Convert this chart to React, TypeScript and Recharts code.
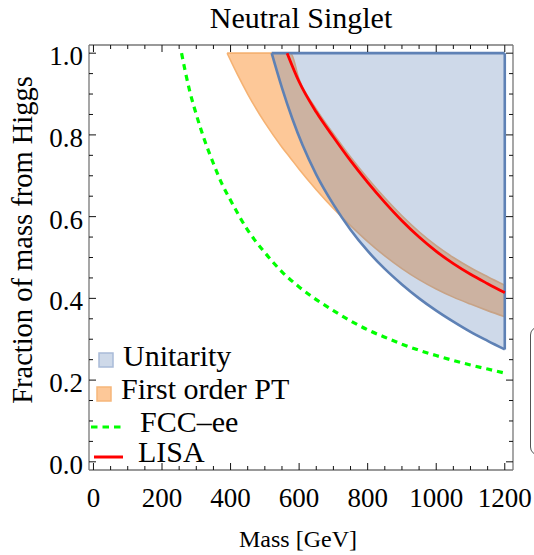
import React from "react";
import { Area, ComposedChart, Line, XAxis, YAxis } from "recharts";

const serif = "'Liberation Serif', 'Times New Roman', serif";

// axis labels
const massTicks = [0, 200, 400, 600, 800, 1000, 1200];
const fractionTicks = [0.0, 0.2, 0.4, 0.6, 0.8, 1.0];

// Unitarity: allowed region lies between this lower edge and 1.0
const unitarityMass = [520, 550, 580, 610, 650, 700, 750, 800, 850, 900, 950, 1000, 1050, 1100, 1150, 1200];
const unitarityLow = [1.0, 0.915, 0.84, 0.775, 0.703, 0.63, 0.568, 0.516, 0.472, 0.434, 0.4, 0.37, 0.343, 0.318, 0.296, 0.275];

// First order PT band
const firstOrderMass = [390, 420, 450, 500, 550, 575, 600, 650, 700, 750, 800, 850, 900, 950, 1000, 1050, 1100, 1150, 1200];
const firstOrderLow = [1.0, 0.948, 0.9, 0.83, 0.77, 0.743, 0.716, 0.666, 0.62, 0.578, 0.539, 0.504, 0.473, 0.446, 0.423, 0.403, 0.386, 0.37, 0.355];
const firstOrderHigh = [1.0, 1.0, 1.0, 1.0, 1.0, 1.0, 0.936, 0.863, 0.803, 0.746, 0.694, 0.646, 0.602, 0.563, 0.529, 0.5, 0.475, 0.453, 0.432];

// FCC-ee reach
const fccMass = [257, 280, 300, 325, 350, 375, 400, 450, 500, 550, 600, 650, 700, 750, 800, 850, 900, 950, 1000, 1050, 1100, 1150, 1200];
const fccFraction = [1.0, 0.91, 0.85, 0.785, 0.73, 0.68, 0.64, 0.567, 0.512, 0.465, 0.428, 0.397, 0.37, 0.345, 0.323, 0.305, 0.288, 0.273, 0.26, 0.248, 0.237, 0.227, 0.217];

// LISA reach
const lisaMass = [565, 600, 650, 700, 750, 800, 850, 900, 950, 1000, 1050, 1100, 1150, 1200];
const lisaFraction = [1.0, 0.93, 0.856, 0.795, 0.737, 0.684, 0.635, 0.59, 0.55, 0.515, 0.485, 0.459, 0.436, 0.414];

const unitarityData = unitarityMass.map((m, i) => ({ m, low: unitarityLow[i], high: 1.0 }));
const unitarityEdge = [
  { m: unitarityMass[unitarityMass.length - 1], f: unitarityLow[unitarityLow.length - 1] },
  { m: unitarityMass[unitarityMass.length - 1], f: 1.0 },
];
const firstOrderData = firstOrderMass.map((m, i) => ({ m, low: firstOrderLow[i], high: firstOrderHigh[i] }));
const fccData = fccMass.map((m, i) => ({ m, f: fccFraction[i] }));
const lisaData = lisaMass.map((m, i) => ({ m, f: lisaFraction[i] }));

// minor ticks every 50 GeV and every 0.05
const xTickAll = Array.from({ length: 25 }, (_, i) => i * 50);
const yTickAll = Array.from({ length: 21 }, (_, i) => Math.round(i * 5) / 100);

const isMajorX = (v: number) => massTicks.includes(v);
const isMajorY = (v: number) => fractionTicks.some((t) => Math.abs(t - v) < 1e-6);

const tickColor = "#111";
const frame = { stroke: "#777", strokeWidth: 1.3 };

function BottomTick(props: any) {
  const { x, y, payload } = props;
  const major = isMajorX(payload.value);
  return (
    <g>
      <line x1={x} x2={x} y1={y} y2={y - (major ? 7 : 4)} stroke={tickColor} />
      {major && (
        <text x={x} y={y + 37} textAnchor="middle" fontFamily={serif} fontSize={27} fill="#000">
          {payload.value}
        </text>
      )}
    </g>
  );
}

function TopTick(props: any) {
  const { x, y, payload } = props;
  const major = isMajorX(payload.value);
  return <line x1={x} x2={x} y1={y} y2={y + (major ? 7 : 4)} stroke={tickColor} />;
}

function LeftTick(props: any) {
  const { x, y, payload } = props;
  const major = isMajorY(payload.value);
  return (
    <g>
      <line x1={x} x2={x + (major ? 7 : 4)} y1={y} y2={y} stroke={tickColor} />
      {major && (
        <text x={x - 6} y={y + 12} textAnchor="end" fontFamily={serif} fontSize={27} fill="#000">
          {payload.value.toFixed(1)}
        </text>
      )}
    </g>
  );
}

function RightTick(props: any) {
  const { x, y, payload } = props;
  const major = isMajorY(payload.value);
  return <line x1={x} x2={x - (major ? 7 : 4)} y1={y} y2={y} stroke={tickColor} />;
}

export default function App() {
  return (
    <div style={{ position: "absolute", left: 0, top: 0, width: 534, height: 555, background: "#fff" }}>
      <ComposedChart width={534} height={555} margin={{ top: 44, right: 20, bottom: 0, left: 0 }}>
        <XAxis
          dataKey="m"
          type="number"
          domain={[-13, 1224]}
          allowDataOverflow
          ticks={xTickAll}
          interval={0}
          tick={<BottomTick />}
          tickLine={false}
          tickSize={0}
          tickMargin={0}
          axisLine={frame}
          height={85}
        />
        <XAxis
          xAxisId="top"
          dataKey="m"
          orientation="top"
          type="number"
          domain={[-13, 1224]}
          allowDataOverflow
          ticks={xTickAll}
          interval={0}
          tick={<TopTick />}
          tickLine={false}
          tickSize={0}
          tickMargin={0}
          axisLine={frame}
          height={1}
        />
        <YAxis
          type="number"
          domain={[-0.02, 1.02]}
          allowDataOverflow
          ticks={yTickAll}
          interval={0}
          tick={<LeftTick />}
          tickLine={false}
          tickSize={0}
          tickMargin={0}
          axisLine={frame}
          width={89}
        />
        <YAxis
          yAxisId="right"
          orientation="right"
          type="number"
          domain={[-0.02, 1.02]}
          allowDataOverflow
          ticks={yTickAll}
          interval={0}
          tick={<RightTick />}
          tickLine={false}
          tickSize={0}
          tickMargin={0}
          axisLine={frame}
          width={1}
        />

        <Area
          data={firstOrderData}
          dataKey={(d: any) => [d.low, d.high]}
          type="monotone"
          fill="#fdc898"
          fillOpacity={1}
          stroke="#f5b273"
          strokeWidth={1.6}
          isAnimationActive={false}
          activeDot={false}
        />
        <Area
          data={unitarityData}
          dataKey={(d: any) => [d.low, d.high]}
          type="monotone"
          fill="#5e81b5"
          fillOpacity={0.3}
          stroke="#5e81b5"
          strokeWidth={2.6}
          isAnimationActive={false}
          activeDot={false}
        />
        <Line
          data={unitarityEdge}
          dataKey="f"
          type="linear"
          stroke="#5e81b5"
          strokeWidth={2.6}
          dot={false}
          activeDot={false}
          isAnimationActive={false}
        />
        <Line
          data={fccData}
          dataKey="f"
          type="monotone"
          stroke="#00ff00"
          strokeWidth={3.2}
          strokeDasharray="6 5"
          dot={false}
          activeDot={false}
          isAnimationActive={false}
        />
        {/* same domains as the bottom/left axes; keeps the top and right frame drawn */}
        <Line
          xAxisId="top"
          yAxisId="right"
          data={lisaData}
          dataKey="f"
          type="monotone"
          stroke="#ff0000"
          strokeWidth={2.8}
          dot={false}
          activeDot={false}
          isAnimationActive={false}
        />
      </ComposedChart>

      <svg
        width={534}
        height={555}
        style={{ position: "absolute", left: 0, top: 0, pointerEvents: "none" }}
        fontFamily={serif}
      >
        <text x={301} y={28} textAnchor="middle" fontSize={30}>
          Neutral Singlet
        </text>
        <text transform="translate(32,240) rotate(-90)" textAnchor="middle" fontSize={28.5}>
          Fraction of mass from Higgs
        </text>
        <text x={298} y={547} textAnchor="middle" fontSize={24}>
          Mass [GeV]
        </text>

        {/* legend */}
        <rect x={99} y={353} width={14} height={14} fill="rgba(94,129,181,0.3)" stroke="#a9bbd8" strokeWidth={1.5} />
        <text x={123} y={366} fontSize={30}>Unitarity</text>
        <rect x={97} y={387} width={14} height={14} fill="#fdc898" stroke="#f6b67a" strokeWidth={1.5} />
        <text x={121} y={399} fontSize={30}>First order PT</text>
        <line x1={91} x2={121} y1={427} y2={427} stroke="#00ff00" strokeWidth={3.2} strokeDasharray="6.5 5" />
        <text x={140} y={432} fontSize={30}>FCC–ee</text>
        <line x1={94} x2={123} y1={457} y2={457} stroke="#ff0000" strokeWidth={3} />
        <text x={138} y={462} fontSize={30}>LISA</text>

        {/* edge of a neighbouring panel */}
        <rect x={530.5} y={327} width={30} height={128} rx={8} fill="none" stroke="#555" strokeWidth={1} />
      </svg>
    </div>
  );
}
